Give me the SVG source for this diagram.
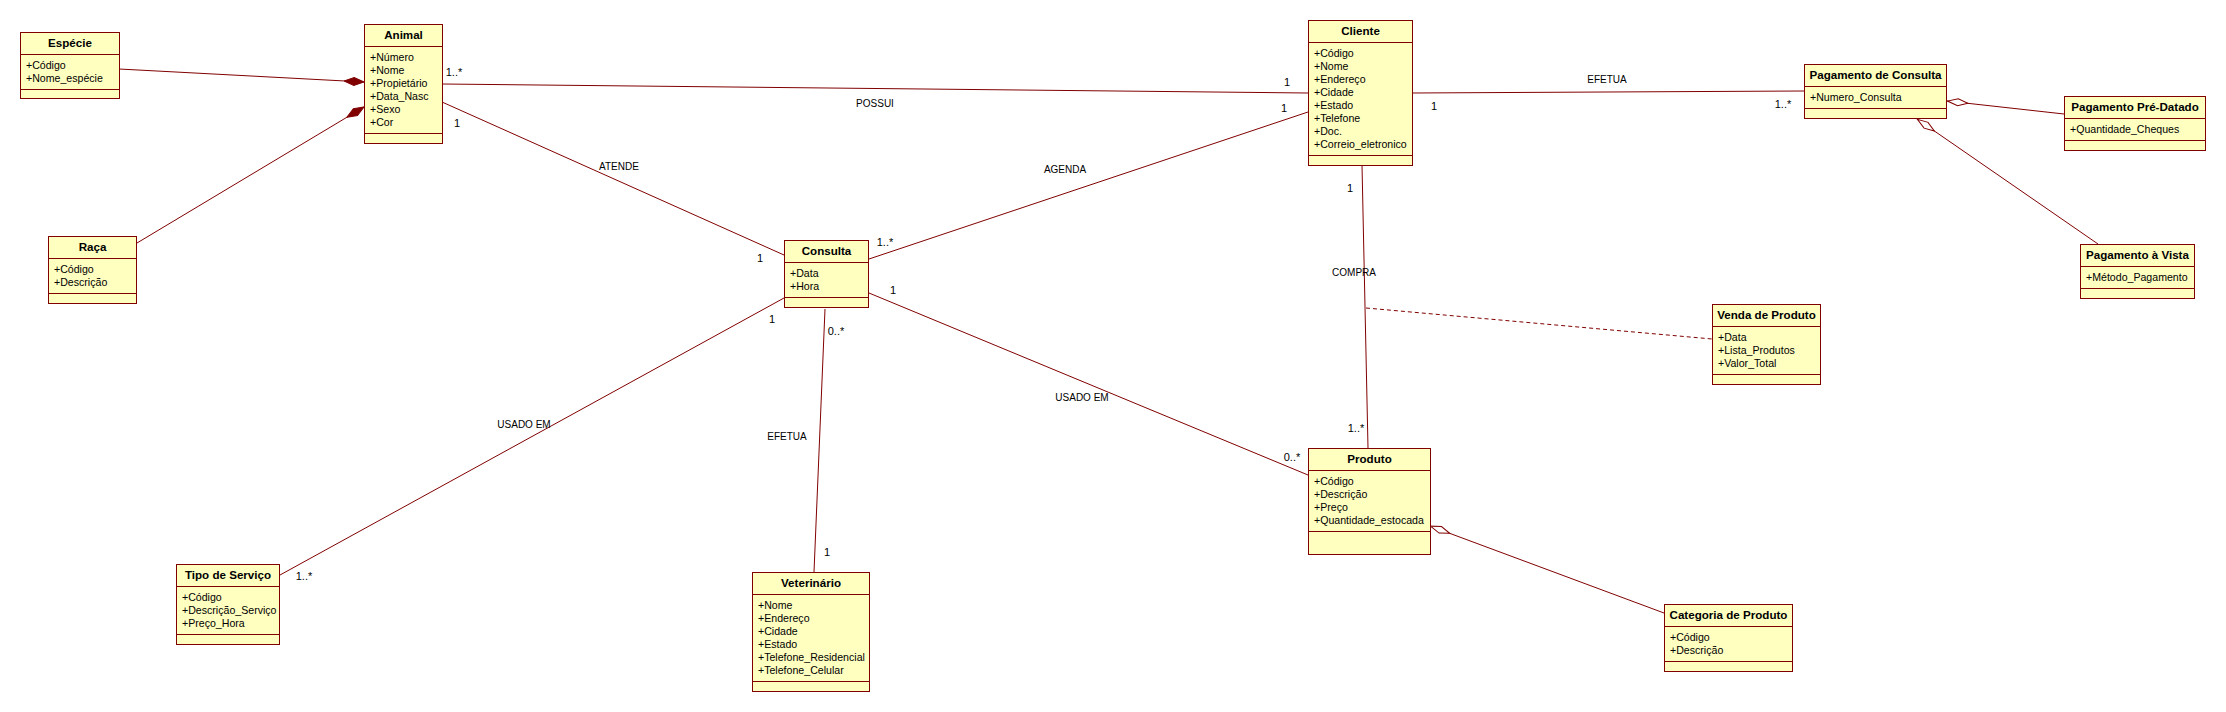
<svg xmlns="http://www.w3.org/2000/svg" width="2226" height="712" viewBox="0 0 2226 712">
<style>
.box{fill:#ffffc0;stroke:#800000;stroke-width:1}
.sep{stroke:#800000;stroke-width:1}
.t{font-family:"Liberation Sans",Arial,sans-serif;font-size:11.6px;font-weight:bold;fill:#000;text-anchor:middle}
.a{font-family:"Liberation Sans",Arial,sans-serif;font-size:10.6px;fill:#000}
.m{font-family:"Liberation Sans",Arial,sans-serif;font-size:11px;fill:#000;text-anchor:middle}
.n{font-family:"Liberation Sans",Arial,sans-serif;font-size:10px;fill:#000;text-anchor:middle}
.c{stroke:#800000;stroke-width:1;fill:none}
.d{stroke:#800000;stroke-width:1;fill:none;stroke-dasharray:4,3}
</style>
<defs>
<marker id="fd" markerUnits="userSpaceOnUse" markerWidth="22" markerHeight="10" refX="20" refY="5" orient="auto" viewBox="0 0 22 10">
<path d="M0,5 L10,1 L20,5 L10,9 Z" fill="#800000" stroke="#800000" stroke-width="1"/>
</marker>
<marker id="hd" markerUnits="userSpaceOnUse" markerWidth="24" markerHeight="10" refX="22" refY="5" orient="auto" viewBox="0 0 24 10">
<path d="M1,5 L11,1.5 L21.5,5 L11,8.5 Z" fill="#ffffff" stroke="#800000" stroke-width="1"/>
</marker>
</defs>
<rect width="2226" height="712" fill="#ffffff"/>

<g id="connectors">
<line class="c" x1="119" y1="69" x2="364" y2="82" marker-end="url(#fd)"/>
<line class="c" x1="137" y1="243" x2="364" y2="107" marker-end="url(#fd)"/>
<line class="c" x1="442" y1="84" x2="1308" y2="93"/>
<line class="c" x1="442" y1="102" x2="784" y2="255"/>
<line class="c" x1="869" y1="259" x2="1308" y2="112"/>
<line class="c" x1="1412" y1="93" x2="1804" y2="91"/>
<line class="c" x1="2064" y1="114" x2="1947" y2="101" marker-end="url(#hd)"/>
<line class="c" x1="2098" y1="244" x2="1917" y2="119" marker-end="url(#hd)"/>
<line class="c" x1="1362" y1="165" x2="1368" y2="448"/>
<line class="d" x1="1366" y1="308" x2="1712" y2="339"/>
<line class="c" x1="869" y1="293" x2="1308" y2="475"/>
<line class="c" x1="1664" y1="613" x2="1430" y2="526" marker-end="url(#hd)"/>
<line class="c" x1="784" y1="298" x2="280" y2="575"/>
<line class="c" x1="825" y1="309" x2="814" y2="572"/>

<text class="m" x="454" y="76">1..*</text>
<text class="m" x="1287" y="86">1</text>
<text class="n" x="875" y="107">POSSUI</text>
<text class="m" x="457" y="127">1</text>
<text class="m" x="760" y="262">1</text>
<text class="n" x="619" y="170">ATENDE</text>
<text class="m" x="885" y="246">1..*</text>
<text class="m" x="1284" y="112">1</text>
<text class="n" x="1065" y="173">AGENDA</text>
<text class="m" x="1434" y="110">1</text>
<text class="m" x="1783" y="108">1..*</text>
<text class="n" x="1607" y="83">EFETUA</text>
<text class="m" x="1350" y="192">1</text>
<text class="m" x="1356" y="432">1..*</text>
<text class="n" x="1354" y="276">COMPRA</text>
<text class="m" x="893" y="294">1</text>
<text class="m" x="1292" y="461">0..*</text>
<text class="n" x="1082" y="401">USADO EM</text>
<text class="m" x="772" y="323">1</text>
<text class="m" x="304" y="580">1..*</text>
<text class="n" x="524" y="428">USADO EM</text>
<text class="m" x="836" y="335">0..*</text>
<text class="m" x="827" y="556">1</text>
<text class="n" x="787" y="440">EFETUA</text>
</g>

<g id="especie">
<rect class="box" x="20.5" y="32.5" width="99" height="66"/>
<line class="sep" x1="20.5" y1="54.5" x2="119.5" y2="54.5"/>
<line class="sep" x1="20.5" y1="89.5" x2="119.5" y2="89.5"/>
<text class="t" x="70" y="47">Espécie</text>
<text class="a" x="26" y="69">+Código</text>
<text class="a" x="26" y="82">+Nome_espécie</text>
</g>

<g id="animal">
<rect class="box" x="364.5" y="24.5" width="78" height="119"/>
<line class="sep" x1="364.5" y1="46.5" x2="442.5" y2="46.5"/>
<line class="sep" x1="364.5" y1="133.5" x2="442.5" y2="133.5"/>
<text class="t" x="403.5" y="39">Animal</text>
<text class="a" x="370" y="61">+Número</text>
<text class="a" x="370" y="74">+Nome</text>
<text class="a" x="370" y="87">+Propietário</text>
<text class="a" x="370" y="100">+Data_Nasc</text>
<text class="a" x="370" y="113">+Sexo</text>
<text class="a" x="370" y="126">+Cor</text>
</g>

<g id="raca">
<rect class="box" x="48.5" y="236.5" width="88" height="67"/>
<line class="sep" x1="48.5" y1="258.5" x2="136.5" y2="258.5"/>
<line class="sep" x1="48.5" y1="293.5" x2="136.5" y2="293.5"/>
<text class="t" x="92.5" y="251">Raça</text>
<text class="a" x="54" y="273">+Código</text>
<text class="a" x="54" y="286">+Descrição</text>
</g>

<g id="consulta">
<rect class="box" x="784.5" y="240.5" width="84" height="67"/>
<line class="sep" x1="784.5" y1="262.5" x2="868.5" y2="262.5"/>
<line class="sep" x1="784.5" y1="297.5" x2="868.5" y2="297.5"/>
<text class="t" x="826.5" y="255">Consulta</text>
<text class="a" x="790" y="277">+Data</text>
<text class="a" x="790" y="290">+Hora</text>
</g>

<g id="cliente">
<rect class="box" x="1308.5" y="20.5" width="104" height="145"/>
<line class="sep" x1="1308.5" y1="42.5" x2="1412.5" y2="42.5"/>
<line class="sep" x1="1308.5" y1="155.5" x2="1412.5" y2="155.5"/>
<text class="t" x="1360.5" y="35">Cliente</text>
<text class="a" x="1314" y="57">+Código</text>
<text class="a" x="1314" y="70">+Nome</text>
<text class="a" x="1314" y="83">+Endereço</text>
<text class="a" x="1314" y="96">+Cidade</text>
<text class="a" x="1314" y="109">+Estado</text>
<text class="a" x="1314" y="122">+Telefone</text>
<text class="a" x="1314" y="135">+Doc.</text>
<text class="a" x="1314" y="148">+Correio_eletronico</text>
</g>

<g id="pagamento-consulta">
<rect class="box" x="1804.5" y="64.5" width="142" height="54"/>
<line class="sep" x1="1804.5" y1="86.5" x2="1946.5" y2="86.5"/>
<line class="sep" x1="1804.5" y1="108.5" x2="1946.5" y2="108.5"/>
<text class="t" x="1875.5" y="79">Pagamento de Consulta</text>
<text class="a" x="1810" y="101">+Numero_Consulta</text>
</g>

<g id="pagamento-pre-datado">
<rect class="box" x="2064.5" y="96.5" width="141" height="54"/>
<line class="sep" x1="2064.5" y1="118.5" x2="2205.5" y2="118.5"/>
<line class="sep" x1="2064.5" y1="140.5" x2="2205.5" y2="140.5"/>
<text class="t" x="2135" y="111">Pagamento Pré-Datado</text>
<text class="a" x="2070" y="133">+Quantidade_Cheques</text>
</g>

<g id="pagamento-a-vista">
<rect class="box" x="2080.5" y="244.5" width="114" height="54"/>
<line class="sep" x1="2080.5" y1="266.5" x2="2194.5" y2="266.5"/>
<line class="sep" x1="2080.5" y1="288.5" x2="2194.5" y2="288.5"/>
<text class="t" x="2137.5" y="259">Pagamento à Vista</text>
<text class="a" x="2086" y="281">+Método_Pagamento</text>
</g>

<g id="venda-produto">
<rect class="box" x="1712.5" y="304.5" width="108" height="80"/>
<line class="sep" x1="1712.5" y1="326.5" x2="1820.5" y2="326.5"/>
<line class="sep" x1="1712.5" y1="374.5" x2="1820.5" y2="374.5"/>
<text class="t" x="1766.5" y="319">Venda de Produto</text>
<text class="a" x="1718" y="341">+Data</text>
<text class="a" x="1718" y="354">+Lista_Produtos</text>
<text class="a" x="1718" y="367">+Valor_Total</text>
</g>

<g id="produto">
<rect class="box" x="1308.5" y="448.5" width="122" height="106"/>
<line class="sep" x1="1308.5" y1="470.5" x2="1430.5" y2="470.5"/>
<line class="sep" x1="1308.5" y1="531.5" x2="1430.5" y2="531.5"/>
<text class="t" x="1369.5" y="463">Produto</text>
<text class="a" x="1314" y="485">+Código</text>
<text class="a" x="1314" y="498">+Descrição</text>
<text class="a" x="1314" y="511">+Preço</text>
<text class="a" x="1314" y="524">+Quantidade_estocada</text>
</g>

<g id="categoria-produto">
<rect class="box" x="1664.5" y="604.5" width="128" height="67"/>
<line class="sep" x1="1664.5" y1="626.5" x2="1792.5" y2="626.5"/>
<line class="sep" x1="1664.5" y1="661.5" x2="1792.5" y2="661.5"/>
<text class="t" x="1728.5" y="619">Categoria de Produto</text>
<text class="a" x="1670" y="641">+Código</text>
<text class="a" x="1670" y="654">+Descrição</text>
</g>

<g id="tipo-servico">
<rect class="box" x="176.5" y="564.5" width="103" height="80"/>
<line class="sep" x1="176.5" y1="586.5" x2="279.5" y2="586.5"/>
<line class="sep" x1="176.5" y1="634.5" x2="279.5" y2="634.5"/>
<text class="t" x="228" y="579">Tipo de Serviço</text>
<text class="a" x="182" y="601">+Código</text>
<text class="a" x="182" y="614">+Descrição_Serviço</text>
<text class="a" x="182" y="627">+Preço_Hora</text>
</g>

<g id="veterinario">
<rect class="box" x="752.5" y="572.5" width="117" height="119"/>
<line class="sep" x1="752.5" y1="594.5" x2="869.5" y2="594.5"/>
<line class="sep" x1="752.5" y1="681.5" x2="869.5" y2="681.5"/>
<text class="t" x="811" y="587">Veterinário</text>
<text class="a" x="758" y="609">+Nome</text>
<text class="a" x="758" y="622">+Endereço</text>
<text class="a" x="758" y="635">+Cidade</text>
<text class="a" x="758" y="648">+Estado</text>
<text class="a" x="758" y="661">+Telefone_Residencial</text>
<text class="a" x="758" y="674">+Telefone_Celular</text>
</g>
</svg>
